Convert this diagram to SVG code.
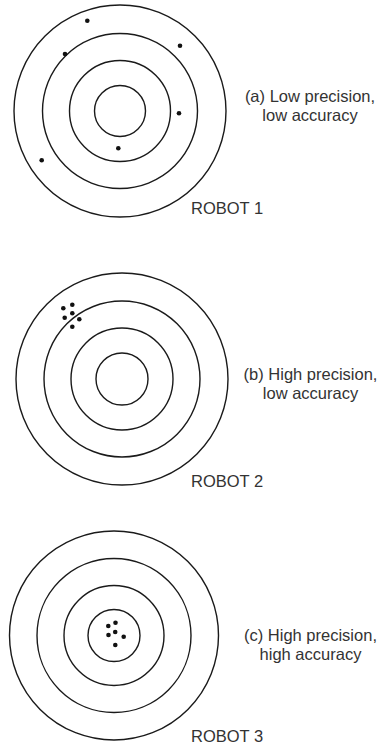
<svg xmlns="http://www.w3.org/2000/svg" width="378" height="749" viewBox="0 0 378 749">
<style>
.ring{fill:none;stroke:#1a1a1a;stroke-width:1.4}
.dot{fill:#111}
.lbl{font-family:"Liberation Sans",Arial,sans-serif;font-size:16.5px;fill:#333;text-anchor:middle}
.rob{font-family:"Liberation Sans",Arial,sans-serif;font-size:16.5px;fill:#333}
</style>
<rect width="378" height="749" fill="#fff"/>
<g id="target1">
<circle class="ring" cx="120" cy="111" r="106"/>
<circle class="ring" cx="120" cy="111" r="77.5"/>
<circle class="ring" cx="120" cy="111" r="50.5"/>
<circle class="ring" cx="120" cy="111" r="25.5"/>
<circle class="dot" cx="87.3" cy="20.7" r="2.3"/>
<circle class="dot" cx="180" cy="45.7" r="2.3"/>
<circle class="dot" cx="65" cy="54" r="2.3"/>
<circle class="dot" cx="179" cy="113.3" r="2.3"/>
<circle class="dot" cx="118.3" cy="148.3" r="2.3"/>
<circle class="dot" cx="41.7" cy="160.3" r="2.3"/>
</g>
<g id="label1">
<text class="lbl" x="310" y="102">(a) Low precision,</text>
<text class="lbl" x="310" y="121">low accuracy</text>
<text class="rob" x="191" y="214">ROBOT 1</text>
</g>
<g id="target2">
<circle class="ring" cx="122" cy="379" r="106"/>
<circle class="ring" cx="122" cy="379" r="78"/>
<circle class="ring" cx="122" cy="379" r="51"/>
<circle class="ring" cx="122" cy="379" r="26"/>
<circle class="dot" cx="63.3" cy="308.3" r="2.3"/>
<circle class="dot" cx="72.3" cy="304.7" r="2.3"/>
<circle class="dot" cx="72.3" cy="313.3" r="2.3"/>
<circle class="dot" cx="64.7" cy="317.7" r="2.3"/>
<circle class="dot" cx="79.3" cy="319.3" r="2.3"/>
<circle class="dot" cx="72.3" cy="326.7" r="2.3"/>
</g>
<g id="label2">
<text class="lbl" x="310.5" y="379.5">(b) High precision,</text>
<text class="lbl" x="310.5" y="398.5">low accuracy</text>
<text class="rob" x="191" y="486.5">ROBOT 2</text>
</g>
<g id="target3">
<circle class="ring" cx="114" cy="635.5" r="104.5"/>
<circle class="ring" cx="114" cy="635.5" r="77"/>
<circle class="ring" cx="114" cy="635.5" r="50"/>
<circle class="ring" cx="114" cy="635.5" r="26"/>
<circle class="dot" cx="108.3" cy="626" r="2.3"/>
<circle class="dot" cx="115.5" cy="622.7" r="2.3"/>
<circle class="dot" cx="108.5" cy="635" r="2.3"/>
<circle class="dot" cx="115.2" cy="632" r="2.3"/>
<circle class="dot" cx="123.7" cy="636.7" r="2.3"/>
<circle class="dot" cx="115.3" cy="645" r="2.3"/>
</g>
<g id="label3">
<text class="lbl" x="310.5" y="641">(c) High precision,</text>
<text class="lbl" x="310.5" y="660">high accuracy</text>
<text class="rob" x="191" y="742">ROBOT 3</text>
</g>
</svg>
